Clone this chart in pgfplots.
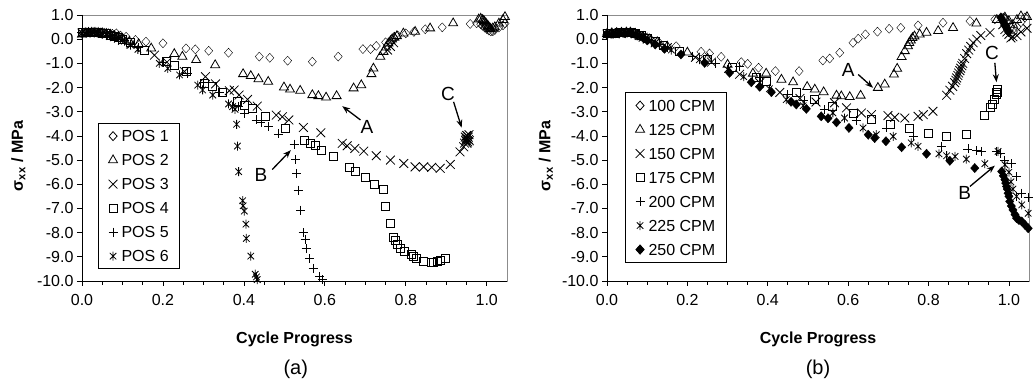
\documentclass[border=0pt]{standalone}
\usepackage{fontspec}
\setmainfont{Liberation Sans}
\usepackage{pgfplots}
\pgfplotsset{compat=1.18}
\usetikzlibrary{arrows.meta}
\pgfdeclareplotmark{xast}{%
 \pgfpathmoveto{\pgfqpoint{0pt}{\pgfplotmarksize}}\pgfpathlineto{\pgfqpoint{0pt}{-\pgfplotmarksize}}%
 \pgfpathmoveto{\pgfqpoint{-.72\pgfplotmarksize}{-.72\pgfplotmarksize}}\pgfpathlineto{\pgfqpoint{.72\pgfplotmarksize}{.72\pgfplotmarksize}}%
 \pgfpathmoveto{\pgfqpoint{-.72\pgfplotmarksize}{.72\pgfplotmarksize}}\pgfpathlineto{\pgfqpoint{.72\pgfplotmarksize}{-.72\pgfplotmarksize}}%
 \pgfusepathqstroke}
\tikzset{
 arr/.style={-{Stealth[length=8bp,width=6bp]}, line width=1.3bp, black},
 lettr/.style={font=\fontsize{19bp}{20bp}\selectfont},
}
\pgfplotsset{
 panel/.style={
  scale only axis, height=266bp,
  xmin=0, xmax=1.05, ymin=-10, ymax=1,
  xtick={0,0.2,0.4,0.6,0.8,1}, xticklabels={0.0,0.2,0.4,0.6,0.8,1.0},
  minor x tick num=3,
  ytick={-10,-9,-8,-7,-6,-5,-4,-3,-2,-1,0,1},
  yticklabels={-10.0,-9.0,-8.0,-7.0,-6.0,-5.0,-4.0,-3.0,-2.0,-1.0,0.0,1.0},
  tick align=outside, xtick pos=bottom, ytick pos=left,
  major tick length=5bp, minor tick length=4bp,
  every tick/.style={black, line width=0.8bp},
  axis line style={draw=black!45, line width=0.8bp},
  ticklabel style={font=\fontsize{16bp}{18bp}\selectfont},
  xticklabel style={yshift=-5bp},
  xlabel={Cycle Progress},
  ylabel={σ\textsubscript{xx} / MPa},
  label style={font=\fontsize{16bp}{18bp}\selectfont\bfseries},
  xlabel style={at={(axis description cs:0.5,-0.218)}, anchor=center},
  clip=false,
  legend style={anchor=north west, draw=black, line width=0.8bp, fill=white,
    font=\fontsize{16bp}{18bp}\selectfont, inner xsep=10bp, inner ysep=6bp,
    nodes={inner sep=1bp, text height=11.5bp, text depth=0bp},
    row sep=10.5bp, column sep=3bp},
  legend cell align=left,
  legend image code/.code={\draw[mark repeat=2,mark phase=2,#1] plot coordinates {(0bp,0bp)(5bp,0bp)(10bp,0bp)};},
 },
 mk/.style={only marks, black, mark options={solid, line width=0.8bp, fill=white}},
 sdia/.style={mk, mark=diamond, mark size=4.5bp, mark options={xscale=1.2}},
 stri/.style={mk, mark=triangle, mark size=5.2bp},
 sx/.style={mk, mark=x, mark size=6.2bp},
 ssq/.style={mk, mark=square, mark size=4bp},
 splus/.style={mk, mark=+, mark size=4.5bp},
 sast/.style={mk, mark=xast, mark size=4.5bp},
 sfdia/.style={only marks, black, mark=diamond*, mark size=4.6bp, mark options={solid, fill=black, xscale=1.2}},
}
\begin{document}
\begin{tikzpicture}
\useasboundingbox (0,0) rectangle (1033bp,389bp);
% ---------------- (a) ----------------
\begin{axis}[panel, width=425bp, at={(82bp,108bp)}, anchor=south west,
  ylabel style={at={(axis description cs:-0.15,0.47)}, anchor=center},
  legend style={at={(axis description cs:0.038,0.594)}}]
\addplot[sdia] coordinates {(0.0,0.22)(0.005,0.27)(0.012,0.28)(0.02,0.28)(0.028,0.29)(0.036,0.28)(0.045,0.28)(0.055,0.27)(0.065,0.25)(0.075,0.22)(0.085,0.24)(0.095,0.15)
(0.109,0.10)(0.132,-0.03)(0.158,-0.10)(0.20,-0.17)(0.257,-0.38)(0.28,-0.42)(0.313,-0.48)(0.362,-0.56)(0.438,-0.72)(0.464,-0.77)(0.508,-0.89)(0.569,-0.93)(0.633,-0.72)(0.694,-0.41)(0.713,-0.41)(0.727,-0.28)(0.75,-0.13)(0.77,0.08)(0.78,0.15)(0.80,0.24)(0.82,0.30)(0.848,0.41)(0.89,0.49)(0.959,0.63)(0.975,0.66)(0.985,0.62)(0.99,0.55)(0.995,0.48)(1.0,0.42)(1.005,0.36)(1.01,0.32)(1.015,0.33)(1.02,0.38)(1.03,0.48)(1.04,0.57)(1.045,0.65)};
\addlegendentry{POS 1}
\addplot[stri] coordinates {(0.0,0.2)(0.008,0.25)(0.016,0.26)(0.024,0.27)(0.032,0.27)(0.04,0.26)(0.05,0.25)(0.06,0.22)(0.07,0.19)(0.08,0.14)(0.09,0.1)(0.1,0.02)
(0.117,-0.10)(0.14,-0.2)(0.171,-0.38)(0.228,-0.61)(0.248,-0.72)(0.282,-0.86)(0.329,-1.07)(0.398,-1.44)(0.417,-1.52)(0.436,-1.65)(0.46,-1.76)(0.499,-1.99)(0.514,-2.08)(0.539,-2.13)(0.569,-2.31)(0.584,-2.35)(0.603,-2.41)(0.629,-2.35)(0.671,-2.03)(0.69,-1.90)(0.715,-1.44)(0.72,-1.21)(0.737,-0.72)(0.745,-0.52)(0.751,-0.34)(0.757,-0.17)(0.762,-0.08)(0.766,-0.01)(0.772,0.06)(0.778,0.13)(0.794,0.24)(0.823,0.31)(0.86,0.45)(0.917,0.66)(0.98,0.82)(0.985,0.85)(0.99,0.80)(0.993,0.75)(0.995,0.7)(0.998,0.65)(1.0,0.6)(1.003,0.55)(1.005,0.5)(1.008,0.45)(1.01,0.42)(1.015,0.45)(1.02,0.5)(1.03,0.65)(1.04,0.8)(1.045,0.92)};
\addlegendentry{POS 2}
\addplot[sx] coordinates {(0.0,0.25)(0.01,0.27)(0.02,0.27)(0.03,0.26)(0.04,0.26)(0.05,0.24)(0.06,0.2)(0.07,0.15)(0.08,0.1)(0.09,0.04)(0.1,-0.05)
(0.12,-0.2)(0.179,-0.66)(0.21,-0.95)(0.253,-1.34)(0.305,-1.55)(0.33,-1.85)(0.364,-2.13)(0.376,-2.10)(0.388,-2.31)(0.409,-2.49)(0.433,-2.77)(0.48,-3.14)(0.495,-3.21)(0.511,-3.34)(0.547,-3.65)(0.59,-3.87)(0.643,-4.31)(0.655,-4.41)(0.674,-4.52)(0.696,-4.63)(0.727,-4.82)(0.762,-5.0)(0.795,-5.14)(0.823,-5.28)(0.844,-5.28)(0.864,-5.30)(0.885,-5.34)(0.91,-5.18)(0.934,-4.66)(0.943,-4.45)(0.945,-4.3)(0.948,-4.2)(0.95,-4.1)(0.952,-4.0)(0.955,-4.15)(0.947,-4.05)(0.953,-4.25)(0.956,-3.95)(0.951,-4.3)(0.949,-4.15)(0.954,-4.05)(0.957,-4.2)(0.95,-3.98)
(0.755,-0.45)(0.762,-0.3)(0.77,-0.15)};
\addlegendentry{POS 3}
\addplot[ssq] coordinates {(0.0,0.28)(0.01,0.29)(0.02,0.28)(0.03,0.27)(0.04,0.27)(0.05,0.25)(0.06,0.22)(0.07,0.17)(0.08,0.12)(0.09,0.06)(0.1,0.0)(0.12,-0.15)
(0.154,-0.45)(0.208,-0.93)(0.228,-1.07)(0.257,-1.34)(0.302,-1.83)(0.321,-1.94)(0.347,-2.21)(0.385,-2.59)(0.401,-2.72)(0.421,-2.86)(0.454,-3.21)(0.503,-3.69)(0.55,-4.17)(0.565,-4.31)(0.576,-4.41)(0.592,-4.61)(0.622,-4.86)(0.661,-5.32)(0.676,-5.48)(0.70,-5.73)(0.722,-5.99)(0.745,-6.21)(0.749,-6.93)(0.762,-7.62)(0.77,-8.21)(0.774,-8.34)(0.778,-8.49)(0.787,-8.66)(0.797,-8.77)(0.813,-8.90)(0.819,-9.0)(0.827,-9.07)(0.844,-9.21)(0.862,-9.25)(0.869,-9.25)(0.877,-9.21)(0.885,-9.14)(0.897,-9.07)};
\addlegendentry{POS 4}
\addplot[splus] coordinates {(0.0,0.3)(0.015,0.3)(0.03,0.29)(0.045,0.27)(0.06,0.23)(0.075,0.16)(0.09,0.07)(0.105,-0.05)(0.12,-0.2)
(0.14,-0.35)(0.2,-0.95)(0.26,-1.4)(0.30,-1.8)(0.34,-2.2)(0.387,-2.79)(0.401,-3.07)(0.43,-3.34)(0.442,-3.45)(0.461,-3.62)(0.485,-3.92)(0.524,-4.34)(0.528,-4.97)(0.53,-5.55)(0.534,-6.24)(0.54,-7.07)(0.546,-8.0)(0.551,-8.28)(0.554,-8.66)(0.562,-9.07)(0.571,-9.48)(0.587,-9.83)(0.594,-9.94)};
\addlegendentry{POS 5}
\addplot[sast] coordinates {(0.0,0.26)(0.012,0.28)(0.025,0.28)(0.038,0.27)(0.05,0.25)(0.062,0.21)(0.075,0.14)(0.09,0.06)(0.105,-0.08)(0.12,-0.25)
(0.138,-0.42)(0.191,-1.0)(0.212,-1.21)(0.241,-1.48)(0.286,-1.90)(0.298,-2.10)(0.323,-2.31)(0.362,-2.68)(0.372,-2.79)(0.378,-2.9)(0.382,-3.52)(0.384,-4.42)(0.387,-5.48)(0.397,-6.68)(0.398,-6.89)(0.401,-7.11)(0.405,-7.65)(0.406,-8.24)(0.417,-8.97)(0.428,-9.72)(0.431,-9.83)(0.433,-9.94)};
\addlegendentry{POS 6}
\draw[black, line width=0.8bp] (rel axis cs:0,1) -- (rel axis cs:0,0) -- (rel axis cs:1,0);
\draw[arr] (axis cs:0.688,-3.34) -- (axis cs:0.643,-2.77);
\node[lettr] at (axis cs:0.704,-3.62) {A};
\draw[arr] (axis cs:0.470,-5.39) -- (axis cs:0.516,-4.59);
\node[lettr] at (axis cs:0.442,-5.62) {B};
\draw[arr] (axis cs:0.918,-2.59) -- (axis cs:0.938,-3.66);
\node[lettr] at (axis cs:0.904,-2.27) {C};
\node[font=\fontsize{20bp}{22bp}\selectfont] at (axis description cs:0.503,-0.331) {(a)};
\end{axis}
% ---------------- (b) ----------------
\begin{axis}[panel, width=422bp, at={(607bp,108bp)}, anchor=south west,
  ylabel style={at={(axis description cs:-0.145,0.47)}, anchor=center},
  legend style={at={(axis description cs:0.043,0.709)}}]
\addplot[sdia] coordinates {(0.0,0.2)(0.01,0.24)(0.02,0.25)(0.03,0.26)(0.04,0.27)(0.05,0.28)(0.06,0.28)(0.065,0.27)(0.075,0.2)(0.085,0.14)(0.095,0.06)(0.11,-0.03)(0.13,-0.15)
(0.172,-0.29)(0.234,-0.52)(0.255,-0.59)(0.284,-0.73)(0.334,-0.95)(0.35,-1.02)(0.377,-1.18)(0.419,-1.32)(0.478,-1.32)(0.537,-0.88)(0.554,-0.80)(0.579,-0.56)(0.612,-0.15)(0.625,0.02)(0.643,0.20)(0.673,0.31)(0.702,0.43)(0.731,0.47)(0.774,0.57)(0.836,0.68)(0.903,0.75)(0.965,0.82)(0.986,0.89)(0.99,0.85)(0.995,0.75)(1.0,0.6)(1.005,0.5)(1.01,0.4)(1.02,0.5)(1.03,0.7)(1.04,0.9)};
\addlegendentry{100 CPM}
\addplot[stri] coordinates {(0.0,0.22)(0.012,0.25)(0.024,0.26)(0.036,0.27)(0.048,0.28)(0.058,0.28)(0.07,0.23)(0.08,0.16)(0.09,0.09)(0.105,0.0)(0.125,-0.12)
(0.15,-0.3)(0.2,-0.55)(0.25,-0.8)(0.3,-1.05)(0.363,-1.42)(0.396,-1.42)(0.434,-1.67)(0.463,-1.78)(0.498,-1.97)(0.517,-2.08)(0.539,-2.19)(0.571,-2.33)(0.583,-2.36)(0.604,-2.39)(0.631,-2.33)(0.674,-2.01)(0.691,-1.87)(0.714,-1.46)(0.722,-1.22)(0.733,-0.73)(0.741,-0.49)(0.749,-0.29)(0.752,-0.15)(0.756,-0.05)(0.76,0.05)(0.765,0.12)(0.778,0.20)(0.795,0.27)(0.824,0.34)(0.861,0.47)(0.919,0.65)(0.97,0.8)(0.99,0.9)(1.0,0.75)(1.01,0.6)(1.02,0.8)(1.03,0.95)(1.045,0.92)};
\addlegendentry{125 CPM}
\addplot[sx] coordinates {(0.0,0.21)(0.01,0.23)(0.02,0.24)(0.03,0.25)(0.04,0.26)(0.05,0.27)(0.06,0.27)(0.07,0.22)(0.08,0.15)(0.09,0.08)(0.1,0.0)(0.12,-0.15)
(0.15,-0.35)(0.22,-0.75)(0.26,-0.95)(0.33,-1.45)(0.38,-1.8)(0.43,-2.2)(0.48,-2.45)(0.52,-2.6)(0.566,-2.63)(0.596,-2.84)(0.633,-3.05)(0.658,-3.12)(0.699,-3.16)(0.716,-3.23)(0.741,-3.26)(0.774,-3.19)(0.787,-3.12)(0.811,-2.98)(0.845,-2.32)(0.853,-2.11)(0.86,-1.95)(0.865,-1.8)(0.868,-1.7)(0.87,-1.6)(0.873,-1.5)(0.875,-1.4)(0.878,-1.3)(0.88,-1.2)(0.883,-1.1)(0.885,-1.0)(0.89,-0.8)(0.895,-0.6)(0.9,-0.45)(0.905,-0.3)(0.911,-0.15)(0.92,0.0)(0.93,0.15)(0.953,0.27)(0.985,0.6)(0.99,0.4)(0.995,0.3)(1.0,0.2)(1.005,0.05)(1.01,0.1)(1.02,0.15)(1.03,0.3)(1.045,0.45)};
\addlegendentry{150 CPM}
\addplot[ssq] coordinates {(0.0,0.23)(0.015,0.25)(0.03,0.26)(0.045,0.27)(0.06,0.28)(0.07,0.24)(0.085,0.15)(0.1,0.04)(0.12,-0.1)(0.14,-0.25)
(0.18,-0.49)(0.25,-0.85)(0.313,-1.18)(0.371,-1.6)(0.396,-1.74)(0.471,-2.22)(0.517,-2.47)(0.562,-2.80)(0.612,-3.05)(0.658,-3.30)(0.706,-3.53)(0.752,-3.67)(0.799,-3.88)(0.845,-4.0)(0.894,-3.95)(0.94,-3.15)(0.954,-2.84)(0.959,-2.70)(0.963,-2.5)(0.969,-2.22)(0.971,-2.08)(0.972,-2.2)(0.97,-2.3)};
\addlegendentry{175 CPM}
\addplot[splus] coordinates {(0.0,0.22)(0.015,0.24)(0.03,0.25)(0.045,0.26)(0.06,0.27)(0.075,0.19)(0.09,0.08)(0.11,-0.05)(0.13,-0.2)
(0.15,-0.35)(0.213,-0.70)(0.27,-1.0)(0.33,-1.11)(0.38,-1.6)(0.45,-2.3)(0.49,-2.55)(0.54,-2.91)(0.62,-3.37)(0.695,-3.67)(0.762,-4.02)(0.832,-4.43)(0.898,-4.54)(0.92,-4.61)(0.932,-4.64)(0.969,-4.64)(0.978,-4.71)(0.99,-5.0)(1.007,-5.15)(1.019,-5.68)(1.032,-6.37)(1.048,-6.55)};
\addlegendentry{200 CPM}
\addplot[sast] coordinates {(0.0,0.2)(0.015,0.23)(0.03,0.24)(0.045,0.25)(0.06,0.26)(0.075,0.17)(0.09,0.07)(0.11,-0.07)(0.13,-0.22)
(0.16,-0.45)(0.23,-0.85)(0.3,-1.25)(0.34,-1.55)(0.404,-2.05)(0.446,-2.5)(0.488,-2.75)(0.562,-3.05)(0.591,-3.26)(0.637,-3.67)(0.67,-3.95)(0.712,-4.02)(0.757,-4.29)(0.774,-4.43)(0.826,-4.74)(0.845,-4.82)(0.866,-4.85)(0.894,-4.96)(0.94,-5.15)(0.973,-4.64)(0.99,-5.19)(1.0,-5.5)(1.005,-5.9)(1.01,-6.2)(1.019,-6.5)(1.032,-6.85)(1.048,-7.2)};
\addlegendentry{225 CPM}
\addplot[sfdia] coordinates {(0.0,0.19)(0.015,0.22)(0.03,0.23)(0.045,0.24)(0.06,0.25)(0.075,0.15)(0.09,0.05)(0.1,-0.05)(0.12,-0.22)
(0.143,-0.40)(0.184,-0.63)(0.243,-0.98)(0.305,-1.39)(0.359,-1.78)(0.38,-1.97)(0.409,-2.19)(0.458,-2.59)(0.471,-2.70)(0.496,-2.88)(0.533,-3.19)(0.55,-3.27)(0.571,-3.44)(0.602,-3.67)(0.65,-3.95)(0.666,-4.09)(0.694,-4.22)(0.733,-4.47)(0.795,-4.74)(0.853,-5.03)(0.915,-5.33)(0.982,-5.47)(0.986,-5.65)(0.99,-5.81)(0.992,-5.95)(0.994,-6.09)(0.996,-6.2)(0.998,-6.37)(1.0,-6.5)(1.002,-6.71)(1.006,-6.9)(1.01,-7.06)(1.015,-7.25)(1.019,-7.40)(1.025,-7.48)(1.032,-7.54)(1.04,-7.68)(1.048,-7.82)
(0.98,0.9)(0.983,0.8)(0.986,0.7)(0.99,0.6)(0.993,0.5)(0.996,0.4)(0.999,0.3)};
\addlegendentry{250 CPM}
\draw[black, line width=0.8bp] (rel axis cs:0,1) -- (rel axis cs:0,0) -- (rel axis cs:1,0);
\draw[arr] (axis cs:0.625,-1.46) -- (axis cs:0.662,-2.01);
\node[lettr] at (axis cs:0.60,-1.29) {A};
\draw[arr] (axis cs:0.903,-6.09) -- (axis cs:0.965,-5.23);
\node[lettr] at (axis cs:0.89,-6.37) {B};
\draw[arr] (axis cs:0.965,-0.98) -- (axis cs:0.969,-1.78);
\node[lettr] at (axis cs:0.958,-0.56) {C};
\node[font=\fontsize{20bp}{22bp}\selectfont] at (axis description cs:0.5,-0.331) {(b)};
\end{axis}
\end{tikzpicture}
\end{document}
